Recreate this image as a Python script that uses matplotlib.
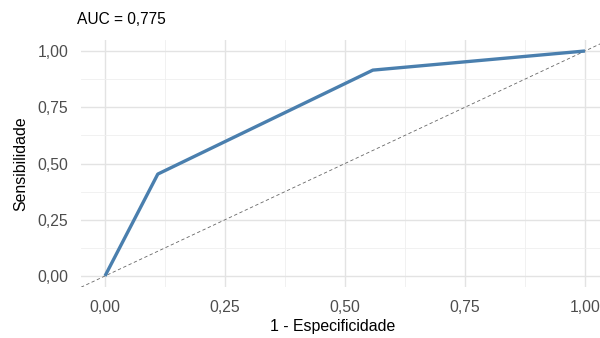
import matplotlib
matplotlib.use('Agg')
import matplotlib.pyplot as plt
import numpy as np

plt.rcParams['font.family'] = ['Liberation Sans', 'DejaVu Sans']

fpr = [0.0, 0.110, 0.558, 1.0]
tpr = [0.0, 0.453, 0.915, 1.0]
ticks = [0.0, 0.25, 0.5, 0.75, 1.0]
tick_labels = ['0,00', '0,25', '0,50', '0,75', '1,00']
minor = [0.125, 0.375, 0.625, 0.875]
title = 'AUC = 0,775'

fig = plt.figure(figsize=(6.0, 3.38), dpi=100)
ax = fig.add_axes([81 / 600, 1 - 287.25 / 338, 528 / 600, 247.5 / 338])

ax.set_xlim(-0.05, 1.05)
ax.set_ylim(-0.05, 1.05)

ax.set_xticks(ticks)
ax.set_xticklabels(tick_labels)
ax.set_yticks(ticks)
ax.set_yticklabels(tick_labels)
ax.set_xticks(minor, minor=True)
ax.set_yticks(minor, minor=True)
ax.grid(which='major', color='#e3e3e3', linewidth=1.0)
ax.grid(which='minor', color='#efefef', linewidth=0.6)
ax.set_axisbelow(True)
ax.tick_params(which='both', length=0, labelsize=11.3, labelcolor='#4d4d4d')
ax.tick_params(axis='x', pad=9)
ax.tick_params(axis='y', pad=9)
for s in ax.spines.values():
    s.set_visible(False)

ax.axline((0, 0), (1, 1), color='#666666', linestyle=(0, (4, 3)), linewidth=0.6)
ax.plot(fpr, tpr, color='#4a7fae', linewidth=2.4, solid_capstyle='butt')

ax.set_xlabel('1 - Especificidade', fontsize=11.4)
ax.set_ylabel('Sensibilidade', fontsize=11.4)
ax.xaxis.set_label_coords((333 - 81) / 528, -(327 - 287.25) / 247.5)
ax.yaxis.set_label_coords(-(81 - 21) / 528, 0.5)
ax.xaxis.label.set_va('center')
ax.yaxis.label.set_va('center')
fig.text(77 / 600, 1 - 20 / 338, title, fontsize=11.2, ha='left', va='center')

plt.savefig('out.png', dpi=100)
